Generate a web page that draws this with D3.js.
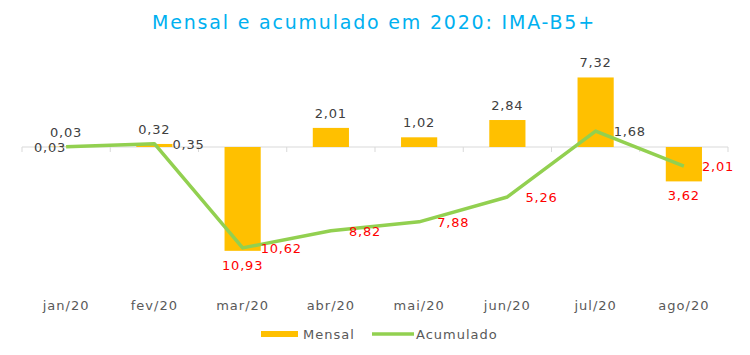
<!DOCTYPE html>
<html>
<head>
<meta charset="utf-8">
<script src="https://cdn.jsdelivr.net/npm/d3@7"></script>
<style>
  html, body { margin: 0; padding: 0; background: #fff; }
  svg { display: block; font-family: "DejaVu Sans", sans-serif; }
</style>
</head>
<body>
<svg id="chart" width="750" height="355"></svg>
<script>
const title = "Mensal e acumulado em 2020: IMA-B5+";
const months = ["jan/20", "fev/20", "mar/20", "abr/20", "mai/20", "jun/20", "jul/20", "ago/20"];
const mensal = [0.03, 0.32, -10.93, 2.01, 1.02, 2.84, 7.32, -3.62];
const acumulado = [0.03, 0.35, -10.62, -8.82, -7.88, -5.26, 1.68, -2.01];
const seriesNames = ["Mensal", "Acumulado"];

const svg = d3.select("#chart");
const barColor = "#FFC000", lineColor = "#92D050";
const fmt = v => Math.abs(v).toFixed(2).replace(".", ",");

const x = d3.scaleBand().domain(months).range([22, 728]).paddingInner(0.59).paddingOuter(0.295);
const y = d3.scaleLinear().domain([-15, 10]).range([289.5, 52]);
const cx = m => x(m) + x.bandwidth() / 2;

// title
svg.append("text").attr("x", 374).attr("y", 29).attr("text-anchor", "middle")
  .attr("font-size", 19).attr("letter-spacing", 1.8).attr("fill", "#00B0F0").text(title);

// axis line at zero + ticks
const axis = d3.axisBottom(x).tickSize(0).tickFormat("");
const ax = svg.append("g").attr("transform", `translate(0,${y(0)})`).call(axis);
ax.select(".domain").attr("stroke", "#D9D9D9").attr("d", `M${x.range()[0]},0H${x.range()[1]}`);
const bounds = d3.range(months.length + 1).map(i => x.range()[0] + i * x.step());
ax.selectAll(".tb").data(bounds).join("line").attr("class", "tb")
  .attr("x1", d => d).attr("x2", d => d).attr("y1", 0).attr("y2", 5)
  .attr("stroke", "#D9D9D9");

// bars
svg.append("g").selectAll("rect").data(months).join("rect")
  .attr("x", m => x(m)).attr("width", x.bandwidth())
  .attr("y", (m, i) => y(Math.max(0, mensal[i])))
  .attr("height", (m, i) => Math.abs(y(mensal[i]) - y(0)))
  .attr("fill", barColor);

// line
const line = d3.line().x((d, i) => cx(months[i])).y(d => y(d));
svg.append("path").datum(acumulado).attr("d", line)
  .attr("fill", "none").attr("stroke", lineColor).attr("stroke-width", 3.5)
  .attr("stroke-linejoin", "round");

// bar labels
svg.append("g").selectAll("text").data(months).join("text")
  .attr("x", m => cx(m))
  .attr("y", (m, i) => mensal[i] >= 0 ? y(mensal[i]) - 10 : y(mensal[i]) + 19)
  .attr("text-anchor", "middle").attr("font-size", 13).attr("letter-spacing", 0.8)
  .attr("fill", (m, i) => mensal[i] >= 0 ? "#404040" : "#FF0000")
  .text((m, i) => fmt(mensal[i]));

// line labels
svg.append("g").selectAll("text").data(months).join("text")
  .attr("x", (m, i) => i === 0 ? cx(m) : cx(m) + 18)
  .attr("y", (m, i) => y(acumulado[i]) + 5)
  .attr("text-anchor", (m, i) => i === 0 ? "end" : "start")
  .attr("font-size", 13).attr("letter-spacing", 0.8)
  .attr("fill", (m, i) => acumulado[i] >= 0 ? "#404040" : "#FF0000")
  .text((m, i) => fmt(acumulado[i]));

// category labels
svg.append("g").selectAll("text").data(months).join("text")
  .attr("x", m => cx(m)).attr("y", 310)
  .attr("text-anchor", "middle").attr("font-size", 13).attr("letter-spacing", 1)
  .attr("fill", "#595959").text(m => m);

// legend
const lg = svg.append("g");
lg.append("rect").attr("x", 261).attr("y", 331).attr("width", 37).attr("height", 6).attr("fill", barColor);
lg.append("text").attr("x", 303).attr("y", 339).attr("font-size", 13).attr("letter-spacing", 1)
  .attr("fill", "#595959").text(seriesNames[0]);
lg.append("line").attr("x1", 372).attr("x2", 414).attr("y1", 334).attr("y2", 334)
  .attr("stroke", lineColor).attr("stroke-width", 3.5);
lg.append("text").attr("x", 416).attr("y", 339).attr("font-size", 13).attr("letter-spacing", 1)
  .attr("fill", "#595959").text(seriesNames[1]);
</script>
</body>
</html>
